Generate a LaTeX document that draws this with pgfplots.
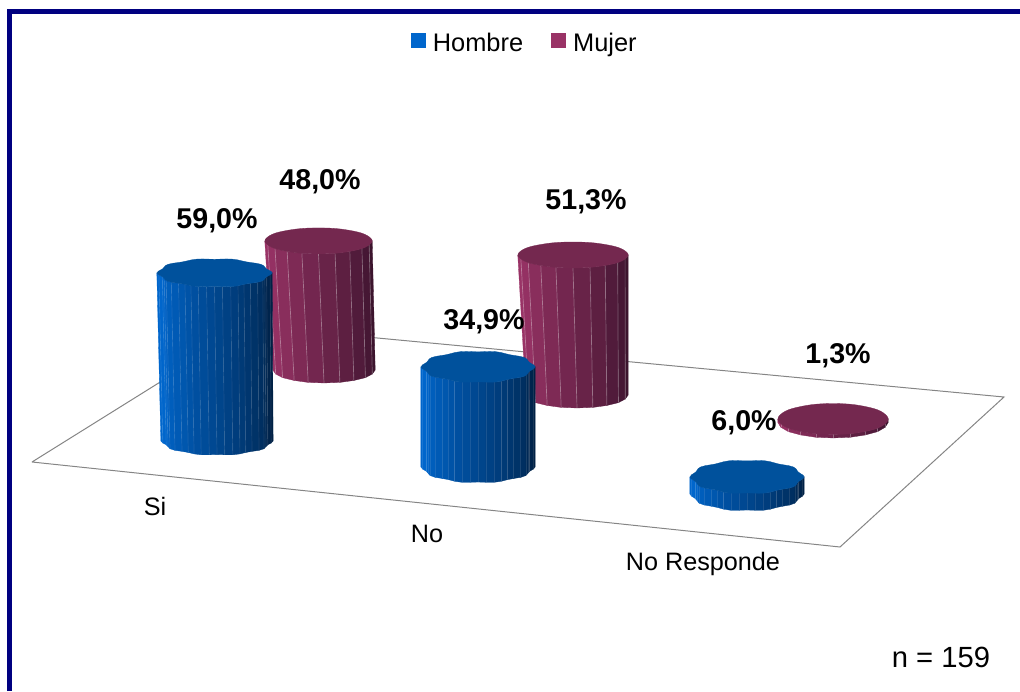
\documentclass[border=0pt]{standalone}
\usepackage{pgfplots}
\pgfplotsset{compat=1.18}
\usepackage{fontspec}
\setmainfont{Liberation Sans}
\definecolor{frameC}{HTML}{000080}
\definecolor{floorC}{HTML}{858585}
\definecolor{hL}{HTML}{0066CC}
\definecolor{hD}{HTML}{001F42}
\definecolor{hT}{HTML}{00519C}
\definecolor{mL}{HTML}{993366}
\definecolor{mD}{HTML}{36122A}
\definecolor{mT}{HTML}{74284F}
% rim point of a cylinder's end: theta, cx, cy, rx, ry, scallop
\newcommand{\rimpt}[6]{%
  \pgfmathsetmacro\rr{1+#6*cos(10*#1)}%
  \pgfmathsetmacro\px{#2-#4*\rr*cos(#1)}%
  \pgfmathsetmacro\py{#3+#5*\rr*sin(#1)}%
}
% #1 value, #2 px per unit, #3 base cx, #4 base y, #5 top cx, #6 ry, #7 rx base, #8 rx top, #9 series (h/m)
\newcommand{\cyl}[9]{%
  \pgfmathsetmacro\topy{#4-#1*#2}%
  \ifx h#9\def\NN{22}\def\amp{0.03}\def\lop{0.10}\else\def\NN{10}\def\amp{0.004}\def\lop{0.30}\fi
  \pgfmathtruncatemacro\NNm{\NN-1}%
  \foreach \u in {0,...,\NNm}{%
    \pgfmathsetmacro\ta{180*\u/\NN}%
    \pgfmathsetmacro\tb{180*(\u+1)/\NN}%
    \pgfmathsetmacro\tm{(\u+0.5)/\NN}%
    \pgfmathsetmacro\mixv{100*(1-max(0,(\tm-0.1)/0.9))}%
    \rimpt{\ta}{#5}{\topy}{#8}{#6}{\amp}\let\xa\px\let\ya\py
    \rimpt{\tb}{#5}{\topy}{#8}{#6}{\amp}\let\xb\px\let\yb\py
    \rimpt{\tb}{#3}{#4}{#7}{#6}{\amp}\let\xc\px\let\yc\py
    \rimpt{\ta}{#3}{#4}{#7}{#6}{\amp}\let\xd\px\let\yd\py
    \edef\temp{\noexpand\addplot[forget plot,fill={#9L!\mixv!#9D},draw={#9L!\mixv!#9D},line width=0.3pt]
      coordinates {(\xa,\ya)(\xb,\yb)(\xc,\yc)(\xd,\yd)(\xa,\ya)};}%
    \temp
    \ifnum\u>0
      \edef\temp{\noexpand\addplot[forget plot,white,opacity=\lop,line width=0.7pt]
        coordinates {(\xa,\ya)(\xd,\yd)};}%
      \temp
    \fi
  }%
  \gdef\coords{}%
  \foreach \a in {0,6,...,354}{%
    \rimpt{\a}{#5}{\topy}{#8}{#6}{\amp}%
    \xdef\coords{\coords(\px,\py)}%
  }%
  \edef\temp{\noexpand\addplot[forget plot,fill=#9T,draw=#9T,line width=0.3pt] coordinates {\coords};}%
  \temp
}
\begin{document}
\begin{tikzpicture}
\begin{axis}[
  scale only axis, width=1020pt, height=691pt,
  xmin=0, xmax=1020, ymin=0, ymax=691, y dir=reverse,
  hide axis,
  legend style={at={(0.5145,0.938)},anchor=center,draw=none,fill=none,
    font=\fontsize{25.4}{28}\selectfont,legend columns=2,
    /tikz/every even column/.append style={column sep=26pt}},
  legend cell align=left,
]
\path (rel axis cs:0,0) rectangle (rel axis cs:1,1);
% frame
\addplot[forget plot,frameC,line width=4.6pt] coordinates {(9.3,691)(9.3,11.4)(1020,11.4)};
% floor
\addplot[forget plot,floorC,line width=1pt] coordinates {(32,462)(840,547)(1004,397)(250,326)(32,462)};
% value, px per %, base cx, base y, top cx, ry, rx base, rx top, series
\cyl{48.0}{2.69}{324}{370}{318.5}{13}{51}{53.5}{m}
\cyl{59.0}{2.85}{217}{441}{214.5}{14}{54.5}{56}{h}
\cyl{51.3}{2.73}{577}{395}{573}{13}{51}{55}{m}
\cyl{34.9}{2.87}{478}{467}{478}{15.5}{55.5}{55.5}{h}
\cyl{1.3}{2.7}{833}{422.5}{833}{15.5}{55}{55}{m}
\cyl{6.0}{2.85}{747}{494}{747}{16.5}{55.5}{55.5}{h}
\addlegendimage{legend image code/.code={\fill[hL,draw=none] (0pt,-5pt) rectangle (15pt,10pt);\path[draw=none,fill=none] (0pt,0pt) rectangle (20pt,0.1pt);}}
\addlegendentry{\vphantom{Hj}Hombre}
\addlegendimage{legend image code/.code={\fill[mL,draw=none] (0pt,-5pt) rectangle (15pt,10pt);\path[draw=none,fill=none] (0pt,0pt) rectangle (20pt,0.1pt);}}
\addlegendentry{\vphantom{Hj}Mujer}
\newcommand{\lbl}[3]{\node[font=\fontsize{28.6}{30}\selectfont\bfseries] at (axis cs:#1,#2) {#3};}
\lbl{217}{221}{59,0\%}
\lbl{320}{182}{48,0\%}
\lbl{484}{322}{34,9\%}
\lbl{586}{202}{51,3\%}
\lbl{744}{423}{6,0\%}
\lbl{838}{356}{1,3\%}
\newcommand{\cat}[3]{\node[font=\fontsize{25.2}{28}\selectfont] at (axis cs:#1,#2) {#3};}
\cat{155}{506}{Si}
\cat{427}{534}{No}
\cat{703}{564}{No Responde}
\node[font=\fontsize{29.2}{30}\selectfont] at (axis cs:941,657) {n = 159};
\end{axis}
\end{tikzpicture}
\end{document}
